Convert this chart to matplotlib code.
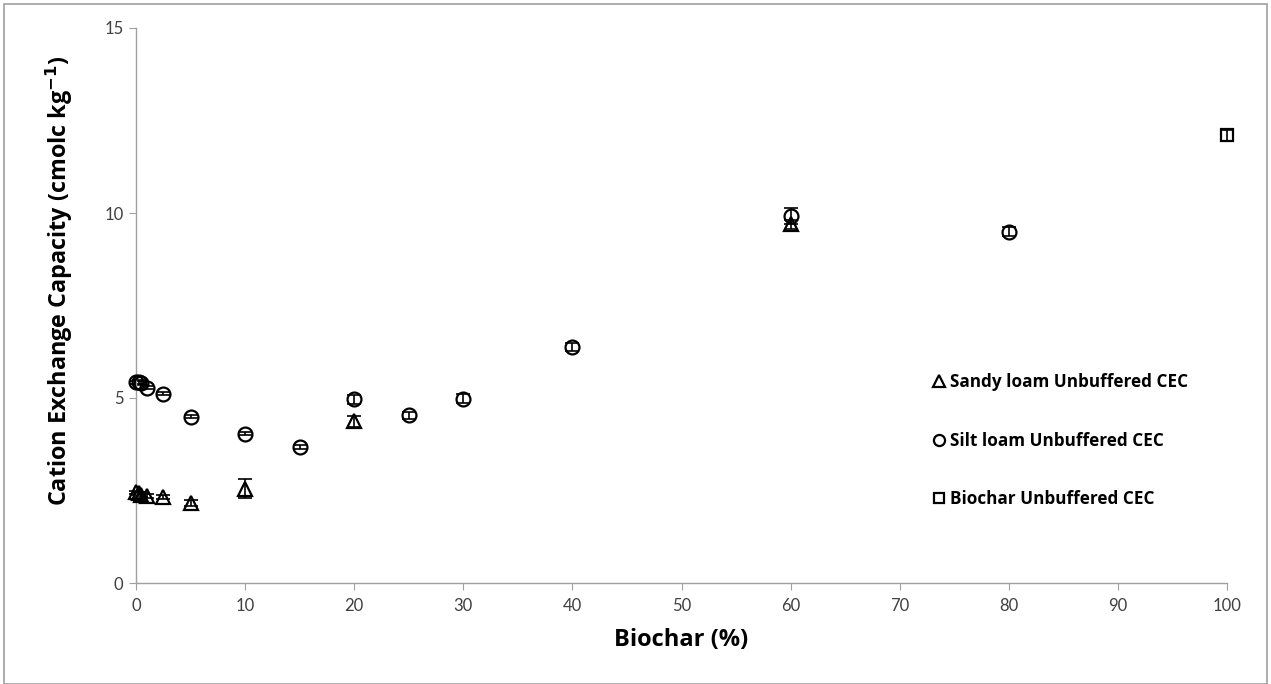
import matplotlib
matplotlib.use("Agg")
import matplotlib.pyplot as plt
from matplotlib.patches import Rectangle

# Data
sandy_x = [0, 0.25, 0.5, 1, 2.5, 5, 10, 20, 60]
sandy_y = [2.45, 2.42, 2.38, 2.36, 2.32, 2.16, 2.55, 4.37, 9.70]
sandy_err = [0.05, 0.05, 0.05, 0.05, 0.05, 0.08, 0.25, 0.15, 0.12]

silt_x = [0, 0.25, 0.5, 1, 2.5, 5, 10, 15, 20, 25, 30, 40, 60, 80]
silt_y = [5.42, 5.44, 5.40, 5.28, 5.12, 4.50, 4.03, 3.67, 4.97, 4.53, 4.98, 6.38, 9.92, 9.50]
silt_err = [0.05, 0.05, 0.05, 0.05, 0.04, 0.04, 0.04, 0.06, 0.12, 0.10, 0.12, 0.10, 0.22, 0.12]

biochar_x = [100]
biochar_y = [12.10]
biochar_err = [0.15]

xticks = [0, 10, 20, 30, 40, 50, 60, 70, 80, 90, 100]
yticks = [0, 5, 10, 15]

plt.rcParams['font.family'] = ['Lato', 'DejaVu Sans']

fig = plt.figure(figsize=(12.71, 6.84), dpi=100)
ax = fig.add_axes([136/1271, 101/684, 1091/1271, 555/684])

common = dict(fmt='none', ecolor='black', elinewidth=1.2, capsize=5, capthick=1.2, zorder=2, clip_on=False)
ax.errorbar(sandy_x, sandy_y, yerr=sandy_err, **common)
ax.errorbar(silt_x, silt_y, yerr=silt_err, **common)
ax.errorbar(biochar_x, biochar_y, yerr=biochar_err, **common)

mk = dict(linestyle='none', markerfacecolor='none', markeredgecolor='black', markeredgewidth=1.6,
          zorder=3, clip_on=False)
ax.plot(sandy_x, sandy_y, marker='^', markersize=10, label='Sandy loam Unbuffered CEC', **mk)
ax.plot(silt_x, silt_y, marker='o', markersize=10, label='Silt loam Unbuffered CEC', **mk)
ax.plot(biochar_x, biochar_y, marker='s', markersize=9, label='Biochar Unbuffered CEC', **mk)

ax.set_xlim(0, 100)
ax.set_ylim(0, 15)
ax.set_xticks(xticks)
ax.set_yticks(yticks)
for s in ['top', 'right']:
    ax.spines[s].set_visible(False)
for s in ['left', 'bottom']:
    ax.spines[s].set_color('#a0a0a0')
    ax.spines[s].set_linewidth(1)
ax.tick_params(axis='both', colors='#a0a0a0', labelcolor='#404040', labelsize=12, length=5, direction='out')
ax.tick_params(axis='y', pad=4)
ax.tick_params(axis='x', pad=6)

ax.set_xlabel('Biochar (%)', fontsize=17, fontweight='bold', family=['Open Sans', 'DejaVu Sans'], labelpad=10)
ax.set_ylabel('Cation Exchange Capacity (cmolc kg$^{\\mathbf{-1}}$)', fontsize=16.8, fontweight='bold',
              family=['Open Sans', 'DejaVu Sans'])
ax.yaxis.set_label_coords(-61/1091, 0.544)

leg = ax.legend(loc='upper left', bbox_to_anchor=(0.722, 0.39), frameon=False,
                prop={'weight': 'bold', 'size': 12.3, 'family': ['Open Sans', 'DejaVu Sans']},
                labelspacing=2.35, handletextpad=0.15, handlelength=1.0, markerscale=0.8,
                borderaxespad=0)

fig.add_artist(Rectangle((4/1271, 0), 1263/1271, 680/684, transform=fig.transFigure,
                         fill=False, edgecolor='#a0a0a0', linewidth=1.2))

fig.savefig('out.png', dpi=100)
